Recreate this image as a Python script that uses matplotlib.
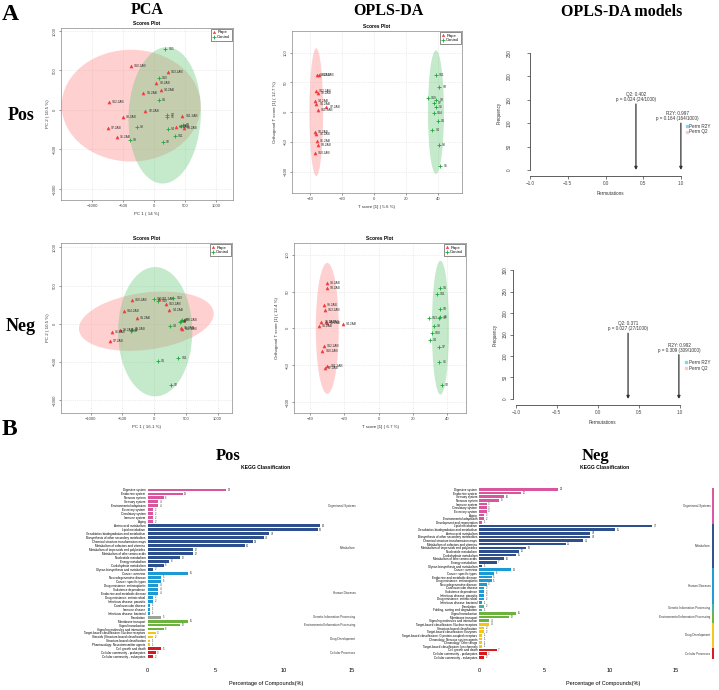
import matplotlib
matplotlib.use("Agg")
import matplotlib.pyplot as plt
import matplotlib.transforms as mtransforms
from matplotlib.patches import Ellipse

W, H = 719, 690
plt.rcParams['font.family'] = ['Liberation Sans', 'DejaVu Sans']

RED_PT = '#F03C3C'
GREEN_PT = '#1FA83A'
RED_ELL = '#FF8A8A'
GREEN_ELL = '#6CCB7E'

# ---------------- PCA / OPLS-DA score data ----------------
pca_pos_rape_x = [-370, 222, 37, 111, -175, -730, -143, -503, 455, -746, -603, 354, 476]
pca_pos_rape_y = [555, 483, 343, 254, 220, 106, -17, -93, -76, -225, -339, -212, -233]
pca_pos_rape_n = ['S10.2AB', 'S13.2AB', 'S9.2AB', 'S4.2AB', 'S1.2AB', 'S12.2AB', 'S2.2AB',
                  'S8.2AB', 'S11.2AB', 'S7.2AB', 'S5.2AB', 'S6.2AB', 'S3.2AB']
pca_pos_ctrl_x = [180, 74, 74, 212, 212, -280, 222, 434, 460, -386, 339, 143]
pca_pos_ctrl_y = [775, 407, 131, -59, -93, -212, -237, -199, -186, -381, -335, -411]
pca_pos_ctrl_n = ['S15', 'S10', 'S1', 'S7', 'S6', 'S8', 'S4', 'S5', 'S3', 'S9', 'S11', 'S2']

pca_neg_rape_x = [-356, 79, 183, 241, -476, -267, -670, -539, -356, -696, 419, 435, 471]
pca_neg_rape_y = [314, 328, 262, 175, 166, 79, -105, -87, -66, -227, -52, -74, 44]
pca_neg_rape_n = ['S10.2AB', 'S11.2AB', 'S13.2AB', 'S4.2AB', 'S14.2AB', 'S1.2AB', 'S6.2AB',
                  'S9.2AB', 'S2.2AB', 'S7.2AB', 'S5.2AB', 'S12.2AB', 'S3.2AB']
pca_neg_ctrl_x = [0, 68, 304, 408, 435, 251, -366, -350, 420, 58, 382, 262]
pca_neg_ctrl_y = [319, 293, 336, 26, 44, -35, -100, -85, 40, -489, -445, -799]
pca_neg_ctrl_n = ['S15', 'S10', 'S13', 'S5', 'S3', 'S4', 'S8', 'S6', 'S7', 'S1', 'S11', 'S2']

opls_pos_rape_x = [-35.4, -34.2, -36.0, -35.0, -37.0, -35.9, -29.6, -35.0, -37.0, -35.9, -35.4, -35.0, -37.0]
opls_pos_rape_y = [63, 63, 35, 32, 18, 14, 8, 4, -34, -36, -49, -54.5, -68.5]
opls_pos_rape_n = ['S8.2AB', 'S13.2AB', 'S12.2AB', 'S9.2AB', 'S4.2AB', 'S1.2AB', 'S7.2AB',
                   'S11.2AB', 'S2.2AB', 'S6.2AB', 'S5.2AB', 'S3.2AB', 'S10.2AB']
opls_pos_ctrl_x = [38.3, 40.6, 33.4, 38.8, 37.5, 38.3, 37.1, 39.6, 36.3, 40.2, 41.2]
opls_pos_ctrl_y = [62, 41.6, 23, 20, 15.7, 9, -2.2, -15.7, -30, -56, -91]
opls_pos_ctrl_n = ['S11', 'S3', 'S10', 'S9', 'S7', 'S6', 'S14', 'S1', 'S4', 'S8', 'S5']

opls_neg_rape_x = [-30.4, -30.4, -32.0, -31.2, -33.4, -31.0, -30.4, -34.7, -21.0, -31.8, -32.8, -30.0, -31.4]
opls_neg_rape_y = [61.4, 54.5, 31.4, 25, 8.2, 8.2, 7.7, 3.6, 5.5, -23.6, -31, -50.5, -53.6]
opls_neg_rape_n = ['S8.2AB', 'S3.2AB', 'S9.2AB', 'S13.2AB', 'S2.2AB', 'S6.2AB', 'S5.2AB',
                   'S1.2AB', 'S4.2AB', 'S12.2AB', 'S10.2AB', 'S11.2AB', 'S7.2AB']
opls_neg_ctrl_x = [35.5, 34.0, 35.5, 29.3, 35.3, 35.9, 32.0, 30.8, 30.0, 34.9, 35.3, 36.9]
opls_neg_ctrl_y = [55, 46.8, 26.8, 13.6, 14.5, 15, 2.7, -6.8, -16, -25, -45.5, -76.4]
opls_neg_ctrl_n = ['S1', 'S11', 'S3', 'S13', 'S9', 'S5', 'S8', 'S10', 'S4', 'S7', 'S6', 'S2']

# ---------------- permutation test ----------------
perm_pos_q2, perm_pos_q2_p, perm_pos_q2_n = 0.402, 0.024, 24
perm_pos_r2y, perm_pos_r2y_p, perm_pos_r2y_n = 0.997, 0.164, 164
perm_neg_q2, perm_neg_q2_p, perm_neg_q2_n = 0.371, 0.027, 27
perm_neg_r2y, perm_neg_r2y_p, perm_neg_r2y_n = 0.992, 0.309, 309

# ---------------- KEGG classification ----------------
group_names = ['Organismal Systems', 'Metabolism', 'Human Diseases',
               'Genetic Information Processing', 'Environmental Information Processing',
               'Drug Development', 'Cellular Processes']

kegg_pos_cats = [
    'Digestive system', 'Endocrine system', 'Nervous system', 'Sensory system',
    'Environmental adaptation', 'Excretory system', 'Circulatory system', 'Immune system', 'Aging',
    'Amino acid metabolism', 'Lipid metabolism', 'Xenobiotics biodegradation and metabolism',
    'Biosynthesis of other secondary metabolites', 'Chemical structure transformation maps',
    'Metabolism of cofactors and vitamins', 'Metabolism of terpenoids and polyketides',
    'Metabolism of other amino acids', 'Nucleotide metabolism', 'Energy metabolism',
    'Carbohydrate metabolism', 'Glycan biosynthesis and metabolism',
    'Cancer: overview', 'Neurodegenerative disease', 'Cancer: specific types',
    'Drug resistance: antineoplastic', 'Substance dependence', 'Endocrine and metabolic disease',
    'Drug resistance: antimicrobial', 'Infectious disease: parasitic', 'Cardiovascular disease',
    'Immune disease', 'Infectious disease: bacterial',
    'Translation',
    'Membrane transport', 'Signal transduction', 'Signaling molecules and interaction',
    'Target-based classification: Nuclear receptors', 'Steroids (Structure-based classification)',
    'Structure-based classification', 'Pharmacology: Neurotransmitter agents',
    'Cell growth and death', 'Cellular community - prokaryotes', 'Cellular community - eukaryotes']
kegg_pos_counts = [29, 13, 6, 4, 4, 2, 2, 2, 2,
                   64, 63, 45, 43, 39, 36, 17, 17, 12, 8, 6, 2,
                   15, 5, 5, 4, 4, 4, 2, 2, 1, 1, 1,
                   5,
                   15, 12, 6,
                   3, 2, 1, 1,
                   5, 3, 2]
kegg_pos_group_sizes = [9, 12, 11, 1, 3, 4, 3]
kegg_pos_total = 504

kegg_neg_cats = [
    'Digestive system', 'Endocrine system', 'Sensory system', 'Nervous system', 'Immune system',
    'Circulatory system', 'Excretory system', 'Aging', 'Environmental adaptation',
    'Development and regeneration',
    'Lipid metabolism', 'Xenobiotics biodegradation and metabolism', 'Amino acid metabolism',
    'Biosynthesis of other secondary metabolites', 'Chemical structure transformation maps',
    'Metabolism of cofactors and vitamins', 'Metabolism of terpenoids and polyketides',
    'Nucleotide metabolism', 'Carbohydrate metabolism', 'Metabolism of other amino acids',
    'Energy metabolism', 'Glycan biosynthesis and metabolism',
    'Cancer: overview', 'Cancer: specific types', 'Endocrine and metabolic disease',
    'Drug resistance: antineoplastic', 'Neurodegenerative disease', 'Cardiovascular disease',
    'Substance dependence', 'Infectious disease: parasitic', 'Drug resistance: antimicrobial',
    'Infectious disease: bacterial',
    'Translation', 'Folding, sorting and degradation',
    'Signal transduction', 'Membrane transport', 'Signaling molecules and interaction',
    'Target-based classification: Nuclear receptors', 'Structure-based classification',
    'Target-based classification: Enzymes',
    'Target-based classification: G protein-coupled receptors',
    'Chronology: Nervous system agents', 'Chronology: Other drugs',
    'Target-based classification: Ion channels',
    'Cell growth and death', 'Cellular community - prokaryotes', 'Cellular community - eukaryotes']
kegg_neg_counts = [32, 17, 10, 8, 3, 3, 3, 2, 2, 1,
                   70, 55, 45, 45, 42, 35, 19, 16, 15, 10, 7, 1,
                   13, 6, 5, 5, 3, 2, 2, 2, 2, 1,
                   2, 1,
                   15, 12, 4,
                   4, 2, 2, 1, 1, 1, 1,
                   7, 3, 2]
kegg_neg_group_sizes = [10, 12, 10, 2, 3, 7, 3]
kegg_neg_total = 530

pos_group_colors = ['#D9559E', '#2D4F8E', '#1C9AD3', '#9AA39A', '#6CB33E', '#F2C714', '#D8181D']
neg_group_colors = ['#D9559E', '#2D4F8E', '#1C9AD3', '#3FB59A', '#6CB33E', '#F2C714', '#D8181D']


fig = plt.figure(figsize=(W / 100, H / 100), dpi=100)


def px_axes(l, t, r, b):
    return fig.add_axes([l / W, 1 - b / H, (r - l) / W, (b - t) / H])


def ftext(x, y, s, **kw):
    fig.text(x / W, 1 - y / H, s, **kw)


def scores_plot(ax, rx, ry, rn, cx, cy, cn, ell_r, ell_g, xlim, ylim, xticks, yticks,
                xlabel, ylabel, ylabelpad=2):
    """ R-style scores plot with confidence ellipses. """
    for (cxy, w, h, ang), col in ((ell_r, RED_ELL), (ell_g, GREEN_ELL)):
        ax.add_patch(Ellipse(cxy, w, h, angle=ang, facecolor=col, alpha=0.4,
                             edgecolor='none', zorder=1))
    ax.scatter(rx, ry, marker='^', s=5, color=RED_PT, linewidths=0.3, zorder=3, label='Rape')
    ax.scatter(cx, cy, marker='+', s=8, color=GREEN_PT, linewidths=0.6, zorder=3, label='Control')
    dx = (xlim[1] - xlim[0]) * 0.018
    for x, y, n in zip(rx + cx, ry + cy, rn + cn):
        ax.text(x + dx, y, n, fontsize=2.3, va='center', color='#333333', zorder=4)
    ax.set_xlim(*xlim)
    ax.set_ylim(*ylim)
    ax.set_xticks(xticks)
    ax.set_yticks(yticks)
    ax.grid(True, color='#dddddd', linestyle=(0, (2, 2)), linewidth=0.4)
    ax.set_axisbelow(True)
    for sp in ax.spines.values():
        sp.set_color('#888888')
        sp.set_linewidth(0.5)
    ax.tick_params(labelsize=3, length=1.5, width=0.4, pad=1.5, colors='#444444')
    for lab in ax.get_yticklabels():
        lab.set_rotation(90)
        lab.set_va('center')
    ax.set_xlabel(xlabel, fontsize=3.2, labelpad=3, color='#333333')
    ax.set_ylabel(ylabel, fontsize=3.2, labelpad=ylabelpad, color='#333333')
    ax.set_title('Scores Plot', fontsize=3.5, fontweight='bold', pad=2.5)
    leg = ax.legend(loc='upper right', fontsize=3, frameon=True, fancybox=False,
                    borderpad=0.3, handlelength=0.8, handletextpad=0.3, labelspacing=0.2,
                    borderaxespad=0.3, markerscale=0.8)
    leg.get_frame().set_edgecolor('black')
    leg.get_frame().set_linewidth(0.4)


def perm_plot(ax, ymax, q2, q2p, q2n, r2y, r2yp, r2yn, q2_top, r2y_top,
              q2_txt_y, r2y_txt_y, r2y_txt_x, leg_y, yaxis_x, xaxis_y, ypad):
    ax.set_xlim(-1.1325, 1.25)
    ax.set_xticks([-1.0, -0.5, 0.0, 0.5, 1.0])
    ax.set_yticks(range(0, ymax + 1, 50))
    for s in ('top', 'right'):
        ax.spines[s].set_visible(False)
    ax.spines['left'].set_position(('data', yaxis_x))
    ax.spines['bottom'].set_position(('data', xaxis_y))
    ax.spines['left'].set_bounds(0, ymax)
    ax.spines['bottom'].set_bounds(-1.0, 1.0)
    for s in ('left', 'bottom'):
        ax.spines[s].set_color('#444444')
        ax.spines[s].set_linewidth(0.6)
    ax.tick_params(axis='x', labelsize=3.3, length=2, width=0.5, pad=1.5, colors='#444444')
    ax.tick_params(axis='y', labelsize=3.3, length=2, width=0.5, pad=ypad, colors='#444444')
    for lab in ax.get_yticklabels():
        lab.set_rotation(90)
        lab.set_va('center')
    arrow = dict(arrowstyle='-|>', color='#333333', lw=0.9, mutation_scale=4,
                 shrinkA=0, shrinkB=0)
    ax.annotate('', xy=(q2, 0), xytext=(q2, q2_top), arrowprops=arrow)
    ax.annotate('', xy=(r2y, 0), xytext=(r2y, r2y_top), arrowprops=arrow)
    ax.text(q2, q2_txt_y, f'Q2: {q2}\np = {q2p:.3f} ({q2n}/1000)', fontsize=3.3,
            ha='center', va='bottom', color='#333333', linespacing=1.1)
    ax.text(r2y_txt_x, r2y_txt_y, f'R2Y: {r2y}\np = {r2yp:.3f} ({r2yn}/1000)', fontsize=3.3,
            ha='center', va='bottom', color='#333333', linespacing=1.1)
    ax.scatter([1.08], [leg_y], marker='s', s=2, color='#86D8E6')
    ax.scatter([1.08], [leg_y - 12 * ymax / 250], marker='s', s=2, color='#F8CCC4')
    ax.text(1.11, leg_y, 'Perm R2Y', fontsize=3.3, va='center', color='#333333')
    ax.text(1.11, leg_y - 12 * ymax / 250, 'Perm Q2', fontsize=3.3, va='center', color='#333333')
    ax.set_xlabel('Permutations', fontsize=3.3, color='#333333', labelpad=4)
    ax.set_ylabel('Frequency', fontsize=3.3, color='#333333')
    ax.patch.set_alpha(0)


def kegg_plot(ax, cats, counts, total, sizes, colors, strip_x=None):
    n = len(cats)
    pct = [c / total * 100 for c in counts]
    cols = []
    for size, col in zip(sizes, colors):
        cols += [col] * size
    ax.barh(range(n), pct, height=0.72, color=cols, edgecolor='none')
    for i, (p, c) in enumerate(zip(pct, counts)):
        ax.text(p + 0.12, i, str(c), fontsize=1.9, va='center', color='#333333')
    ax.set_xlim(0, 15)
    ax.set_ylim(n - 1 + 1.3, -1.5)
    ax.set_yticks(range(n))
    ax.set_yticklabels(cats, fontsize=2.2)
    ax.set_xticks([0, 5, 10, 15])
    ax.tick_params(axis='y', length=0, pad=1.5)
    ax.tick_params(axis='x', labelsize=4, length=0, pad=4)
    for sp in ax.spines.values():
        sp.set_visible(False)
    trans = mtransforms.blended_transform_factory(fig.transFigure, ax.transData)
    start = 0
    for size, col, name in zip(sizes, colors, group_names):
        mid = start + (size - 1) / 2
        gx = strip_x if strip_x is not None else 358
        ax.text((gx - 2.5) / W, mid, name, transform=trans, fontsize=2.2, ha='right',
                va='center', color='#333333', clip_on=False)
        if strip_x is not None:
            ax.plot([strip_x / W] * 2, [start - 0.5, start + size - 0.5], transform=trans,
                    color=col, linewidth=1.4, clip_on=False, solid_capstyle='butt')
        start += size


# ---- row titles ----
serif = dict(family=['Liberation Serif', 'DejaVu Serif'], fontweight='bold')
ftext(2, 20, 'A', fontsize=17, **serif)
ftext(147, 14, 'PCA', fontsize=11.5, ha='center', **serif)
ftext(388, 15, 'OPLS-DA', fontsize=11.5, ha='center', **serif)
ftext(622, 16, 'OPLS-DA models', fontsize=11.5, ha='center', **serif)
ftext(21, 120, 'Pos', fontsize=13, ha='center', **serif)
ftext(21, 331, 'Neg', fontsize=13, ha='center', **serif)
ftext(2, 435, 'B', fontsize=17, **serif)
ftext(228, 460, 'Pos', fontsize=12, ha='center', **serif)
ftext(595, 460, 'Neg', fontsize=12, ha='center', **serif)

# ---- PCA ----
ax = px_axes(61, 28, 233, 200)
scores_plot(ax, pca_pos_rape_x, pca_pos_rape_y, pca_pos_rape_n,
            pca_pos_ctrl_x, pca_pos_ctrl_y, pca_pos_ctrl_n,
            ((-370, 55), 2238, 1415, 0), ((170, -68), 1164, 1729, -4),
            (-1500, 1270), (-1140, 1038), [-1000, -500, 0, 500, 1000],
            [-1000, -500, 0, 500, 1000], 'PC 1 ( 14 %)', 'PC 2 ( 10.5 %)')

ax = px_axes(61, 243, 232, 413)
scores_plot(ax, pca_neg_rape_x, pca_neg_rape_y, pca_neg_rape_n,
            pca_neg_ctrl_x, pca_neg_ctrl_y, pca_neg_ctrl_n,
            ((-123, 33), 2131, 750, 6), ((16, -105), 1168, 1694, 0),
            (-1466, 1225), (-1170, 1057), [-1000, -500, 0, 500, 1000],
            [-1000, -500, 0, 500, 1000], 'PC 1 ( 16.1 %)', 'PC 2 ( 10.5 %)')

# ---- OPLS-DA ----
ax = px_axes(292, 31, 462, 193)
scores_plot(ax, opls_pos_rape_x, opls_pos_rape_y, opls_pos_rape_n,
            opls_pos_ctrl_x, opls_pos_ctrl_y, opls_pos_ctrl_n,
            ((-35.9, 0), 8.5, 215, 0), ((38.5, 0), 10, 208, 0),
            (-51, 54.7), (-136, 136.5), [-40, -20, 0, 20, 40],
            [-100, -50, 0, 50, 100], 'T score [1] ( 5.6 %)', 'Orthogonal T score [1] ( 12.7 %)',
            ylabelpad=5)

ax = px_axes(294, 243, 466, 413)
scores_plot(ax, opls_neg_rape_x, opls_neg_rape_y, opls_neg_rape_n,
            opls_neg_ctrl_x, opls_neg_ctrl_y, opls_neg_ctrl_n,
            ((-30, 0), 13.4, 178, 0), ((36, 1), 10, 182, 0),
            (-49.4, 50.9), (-115, 116), [-40, -20, 0, 20, 40],
            [-100, -50, 0, 50, 100], 'T score [1] ( 6.7 %)', 'Orthogonal T score [1] ( 12.4 %)',
            ylabelpad=5)

# ---- permutation plots ----
ax = px_axes(520, 45, 700, 180)
ax.set_ylim(-21.4, 267.1)
perm_plot(ax, 250, perm_pos_q2, perm_pos_q2_p, perm_pos_q2_n,
          perm_pos_r2y, perm_pos_r2y_p, perm_pos_r2y_n,
          q2_top=141, r2y_top=100, q2_txt_y=145, r2y_txt_y=104, r2y_txt_x=0.95,
          leg_y=94, yaxis_x=-1.0, xaxis_y=-12.8, ypad=11)

ax = px_axes(505, 260, 700, 410)
ax.set_ylim(-25.6, 323.3)
perm_plot(ax, 300, perm_neg_q2, perm_neg_q2_p, perm_neg_q2_n,
          perm_neg_r2y, perm_neg_r2y_p, perm_neg_r2y_n,
          q2_top=153, r2y_top=103, q2_txt_y=157, r2y_txt_y=107, r2y_txt_x=1.0,
          leg_y=86, yaxis_x=-1.036, xaxis_y=-14, ypad=1.5)

# ---- KEGG bar charts ----
ax = px_axes(147.5, 484, 351.5, 662)
kegg_plot(ax, kegg_pos_cats, kegg_pos_counts, kegg_pos_total, kegg_pos_group_sizes,
          pos_group_colors)
ax.set_title('KEGG Classification', fontsize=3.6, fontweight='bold', x=0.58, pad=11)
ftext(266, 685, 'Percentage of Compounds(%)', fontsize=4, ha='center')

ax = px_axes(479.3, 484, 675.5, 662)
kegg_plot(ax, kegg_neg_cats, kegg_neg_counts, kegg_neg_total, kegg_neg_group_sizes,
          neg_group_colors, strip_x=713)
ax.set_title('KEGG Classification', fontsize=3.6, fontweight='bold', x=0.64, pad=11)
ftext(603, 685, 'Percentage of Compounds(%)', fontsize=4, ha='center')

fig.savefig('out.png', dpi=100)
